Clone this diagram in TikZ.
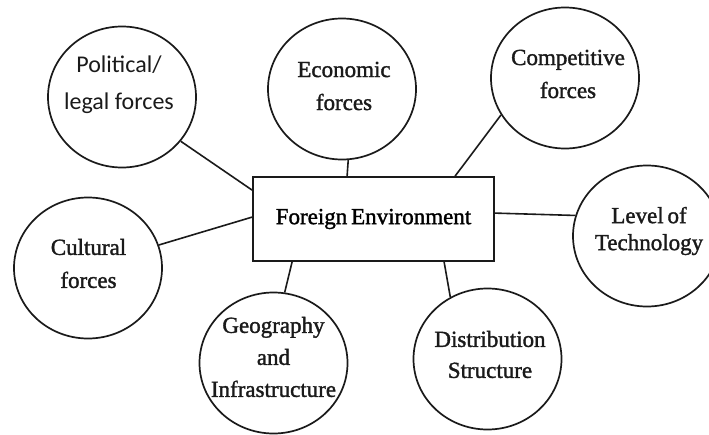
\documentclass[tikz,border=0pt]{standalone}
\usepackage{fontspec}
\setmainfont{Liberation Serif}
\newfontfamily\capface[FakeBold=1.5]{Liberation Serif}
\newfontfamily\calibfont{Carlito}
\usetikzlibrary{shapes.geometric,calc}
\definecolor{ink}{HTML}{1A1A1A}
\begin{document}
\begin{tikzpicture}[x=1pt,y=-1pt,
  force/.style={ellipse,draw=ink,line width=1.7pt,inner sep=0pt,
                minimum width=148pt,minimum height=141pt},
  envbox/.style={rectangle,draw=ink,line width=1.8pt,inner sep=0pt,
                minimum width=241pt,minimum height=84pt,
                font=\capface\fontsize{23}{28}\selectfont},
  label/.style={align=center,inner sep=0pt,text=ink,
                font=\capface\fontsize{23}{33}\selectfont},
  link/.style={draw=ink,line width=1.6pt}]
\useasboundingbox (0,0) rectangle (709,434);

% central box
\node[envbox] (env) at (373.5,219) {Foreign\,Environment};

% surrounding circles
\node[force] (pol) at (122,97)  {};
\node[force] (eco) at (342,89)  {};
\node[force] (com) at (565,78)  {};
\node[force] (lev) at (647,236) {};
\node[force] (cul) at (88,268)  {};
\node[force] (geo) at (273.5,363) {};
\node[force] (dis) at (487.5,359) {};

% circle captions
\node[label,font=\calibfont\fontsize{24}{37}\selectfont] (polT) at (119,85) {Political/\\legal forces};
\node[label] (ecoT) at (344,86) {Economic\\forces};
\node[label] (comT) at (568,74) {Competitive\\forces};
\node[label,font=\capface\fontsize{23}{27}\selectfont] (levT) at (649,231) {Level\,of\\Technology};
\node[label] (culT) at (88.5,263.5) {Cultural\\forces};
\node[label,font=\capface\fontsize{23}{32}\selectfont] (geoT) at (273.5,357) {Geography\\and\\Infrastructure};
\node[label,font=\capface\fontsize{23}{31}\selectfont] (disT) at (490,354.5) {Distribution\\Structure};

% connectors from each circle to the box
\draw[link] (pol.-37.8) -- ($(env.north west)+(0,14)$);
\draw[link] (eco.-85)   -- ($(env.north west)+(95,0)$);
\draw[link] (com.210)   -- ($(env.north west)+(203,0)$);
\draw[link] (lev.164.8) -- ($(env.north east)+(0,37)$);
\draw[link] (cul.18.4)  -- ($(env.north west)+(0,41)$);
\draw[link] (geo.81)    -- ($(env.south west)+(40,0)$);
\draw[link] (dis.121)   -- ($(env.south west)+(192,0)$);
\end{tikzpicture}
\end{document}
